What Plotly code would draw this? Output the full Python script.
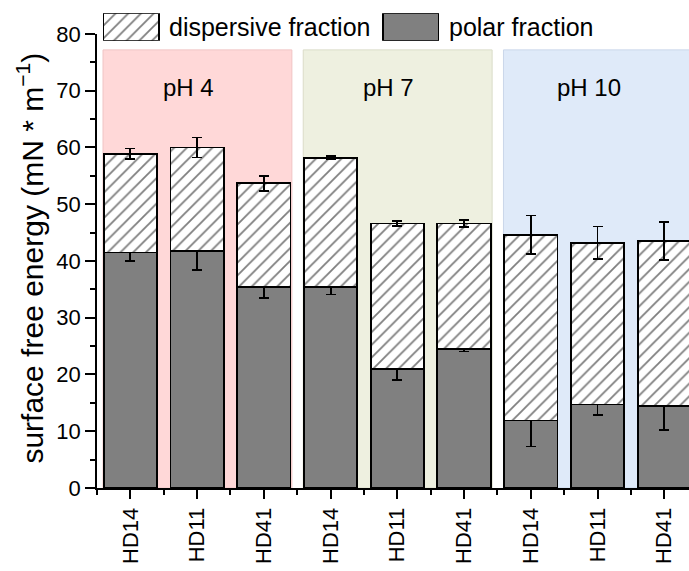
import plotly.graph_objects as go

# ---- data ----
samples = ["HD14", "HD11", "HD41", "HD14", "HD11", "HD41", "HD14", "HD11", "HD41"]
groups = ["pH 4", "pH 7", "pH 10"]
polar = [41.5, 41.8, 35.4, 35.4, 21.0, 24.5, 11.9, 14.7, 14.4]
polar_err = [1.45, 3.4, 1.9, 1.3, 1.9, 0.45, 4.6, 1.8, 4.25]
dispersive = [17.4, 18.2, 18.3, 22.8, 25.6, 22.1, 32.7, 28.5, 29.1]
total_err = [0.93, 1.76, 1.32, 0.27, 0.41, 0.56, 3.43, 2.88, 3.37]
y_title = "surface free energy (mN * m<sup>−1</sup>)"
group_colors = ["#FFD8D8", "#EEF0E0", "#DFEAF9"]
group_edges = ["#F0C4C4", "#DADCC8", "#C9D6EA"]

FONT = "Liberation Sans, Arial, sans-serif"
xpos = list(range(len(samples)))

fig = go.Figure()

err_style = dict(type="data", visible=True, color="black", thickness=1.8, width=5)
hatch = dict(shape="/", size=9, solidity=0.2, fgcolor="black", bgcolor="white")

fig.add_trace(go.Bar(
    x=xpos, y=polar, width=0.8, name="polar fraction",
    marker=dict(color="#808080", line=dict(color="black", width=1.8)),
    error_y=dict(array=polar_err, **err_style),
    showlegend=False,
))
fig.add_trace(go.Bar(
    x=xpos, y=dispersive, width=0.8, name="dispersive fraction",
    marker=dict(color="white", line=dict(color="black", width=1.8), pattern=hatch),
    error_y=dict(array=total_err, **err_style),
    showlegend=False,
))

# legend boxes drawn as bars on a small auxiliary axis
legend_names = ["dispersive fraction", "polar fraction"]
fig.add_trace(go.Bar(
    x=[0], y=[1], width=0.201, xaxis="x2", yaxis="y2", showlegend=False, hoverinfo="skip",
    marker=dict(color="white", line=dict(color="black", width=1.8), pattern=hatch),
))
fig.add_trace(go.Bar(
    x=[1], y=[1], width=0.201, xaxis="x2", yaxis="y2", showlegend=False, hoverinfo="skip",
    marker=dict(color="#808080", line=dict(color="black", width=1.8)),
))

shapes = []
annotations = []
for gi, g in enumerate(groups):
    start = gi * 3
    end = start + 2
    shapes.append(dict(type="rect", xref="x", yref="y", x0=start - 0.41, x1=end + 0.42,
                       y0=0, y1=77.2, fillcolor=group_colors[gi],
                       line=dict(color=group_edges[gi], width=1), layer="below"))
    annotations.append(dict(x=(start + end) / 2 - 0.13, y=70.6, xref="x", yref="y",
                            text=g, showarrow=False, font=dict(family=FONT, size=24, color="black")))

for name, xp in zip(legend_names, [0.118, 0.5907]):
    annotations.append(dict(x=xp, y=0.9644, xref="paper", yref="paper", xanchor="left",
                            yanchor="middle", text=name, showarrow=False,
                            font=dict(family=FONT, size=25, color="black")))

# y-axis title
annotations.append(dict(x=-0.1132, y=0.482, xref="paper", yref="paper", xanchor="center",
                        yanchor="middle", text=y_title, textangle=-90, showarrow=False,
                        font=dict(family=FONT, size=30, color="black")))

fig.update_layout(
    width=689, height=571,
    margin=dict(l=97, r=0, t=10, b=83),
    barmode="stack",
    plot_bgcolor="white", paper_bgcolor="white",
    font=dict(family=FONT, color="black"),
    shapes=shapes, annotations=annotations,
    xaxis=dict(range=[-0.5, 8.37], tickmode="array", tickvals=xpos, ticktext=samples,
               tickangle=-90, ticks="outside", ticklen=9, tickwidth=1.6, tickcolor="black",
               tickfont=dict(family=FONT, size=22, color="black"), automargin=False,
               showline=True, linecolor="black", linewidth=1.8, showgrid=False, zeroline=False,
               minor=dict(tickmode="array", tickvals=[i - 0.5 for i in xpos] + [len(xpos) - 0.5],
                          ticks="outside", ticklen=5, tickwidth=1.6, tickcolor="black")),
    yaxis=dict(range=[0, 80], domain=[0, 0.9498], dtick=10, ticks="outside", ticklen=10,
               tickwidth=1.6, tickcolor="black", automargin=False,
               tickfont=dict(family=FONT, size=22, color="black"),
               showline=True, linecolor="black", linewidth=1.8, showgrid=False, zeroline=False,
               minor=dict(dtick=5, ticks="outside", ticklen=5, tickwidth=1.6, tickcolor="black")),
    xaxis2=dict(domain=[0.01014, 0.5777], range=[-0.1005, 1.1005], anchor="y2", visible=False),
    yaxis2=dict(domain=[0.9358, 0.9931], range=[0, 1], anchor="x2", visible=False),
)

fig.write_html("out.html", config={"displayModeBar": False},
               post_script="document.body.style.margin='0';")
